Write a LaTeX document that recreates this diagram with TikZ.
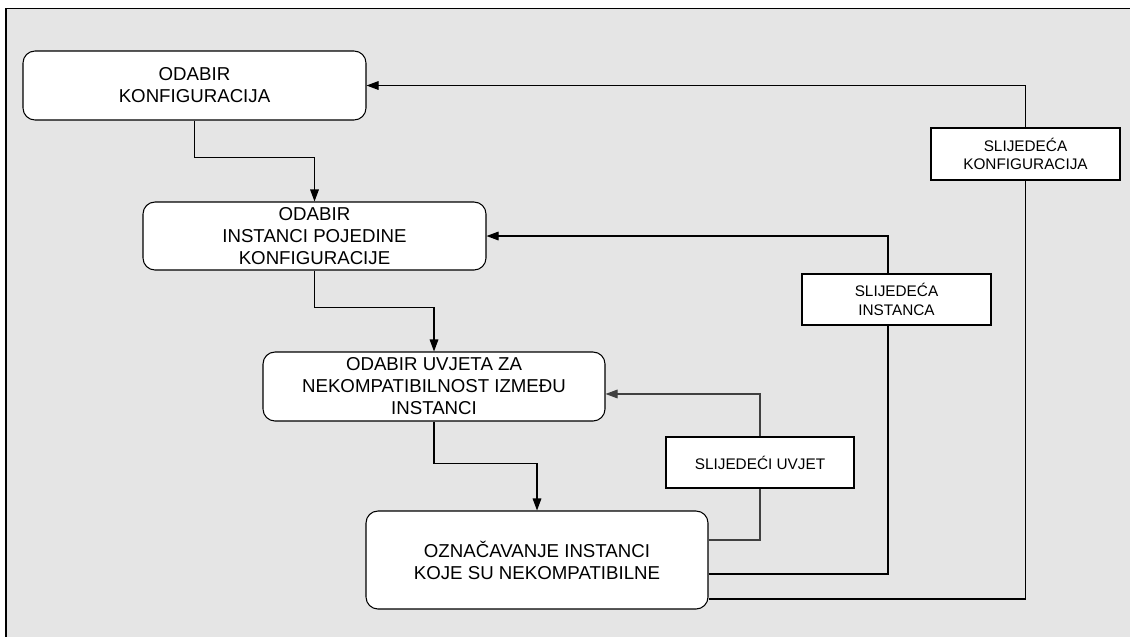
\documentclass[tikz,border=0pt]{standalone}
\usepackage{fontspec}
\setmainfont{Liberation Sans}
\usetikzlibrary{arrows.meta}

\definecolor{panelgray}{RGB}{229,229,229}

\tikzset{
  stage/.style={draw=black, fill=white, rounded corners=9pt, line width=0.8pt,
    align=center, inner sep=0pt, font=\fontsize{14}{16.5}\selectfont},
  note/.style={draw=black, fill=white, line width=0.8pt, align=center,
    inner sep=0pt, font=\fontsize{11.5}{14}\selectfont},
  flow/.style={draw=black, line width=0.8pt, -{Triangle[length=9pt,width=6.5pt]}}
}

\begin{document}
\begin{tikzpicture}[x=0.75pt,y=0.75pt,yscale=-1,xscale=1]
\useasboundingbox (0,0) rectangle (1130,636);

%Frame
\fill [panelgray] (6,8.5) rectangle (1140,646);
\draw [line width=1.2pt] (6,646) -- (6,8.5) -- (1140,8.5);

%Rounded Rect
\node [stage, minimum width=257.25pt, minimum height=51.75pt] (odabirKonf) at (194.5,85.5) {ODABIR\\KONFIGURACIJA};
%Rounded Rect
\node [stage, minimum width=257.25pt, minimum height=51pt] (odabirInst) at (314.5,236) {ODABIR\\INSTANCI POJEDINE\\KONFIGURACIJE};
%Rounded Rect
\node [stage, minimum width=256.5pt, minimum height=51.75pt] (odabirUvj) at (434,386.5) {ODABIR UVJETA ZA\\NEKOMPATIBILNOST IZMEĐU\\INSTANCI};
%Rounded Rect
\node [stage, minimum width=256.5pt, minimum height=73.5pt] (oznacavanje) at (537,560) {OZNAČAVANJE INSTANCI\\KOJE SU NEKOMPATIBILNE};

% Text Node
\node [note, minimum width=141pt, minimum height=38.25pt] (sljUvjet) at (760,462.5) {SLIJEDEĆI UVJET};
% Text Node
\node [note, minimum width=141.75pt, minimum height=38.25pt] (sljInst) at (896.5,299.5) {SLIJEDEĆA\\INSTANCA};
% Text Node
\node [note, minimum width=141.75pt, minimum height=39pt] (sljKonf) at (1025.5,154) {SLIJEDEĆA\\KONFIGURACIJA};

%Straight Lines
\draw [flow] (odabirKonf.south) -- ++(0,37) -| (odabirInst.north);
\draw [flow] (odabirInst.south) -- ++(0,37) -| (odabirUvj.north);
\draw [flow] (odabirUvj.south) -- ++(0,42) -| (oznacavanje.north);

%Loops back
\draw [line width=0.8pt, draw=black!75] ([yshift=-15pt]oznacavanje.east) -| (sljUvjet.south);
\draw [flow, draw=black!75] (sljUvjet.north) |- ([yshift=5.6pt]odabirUvj.east);
\draw [line width=0.8pt] ([yshift=10.5pt]oznacavanje.east) -| ([xshift=-6.4pt]sljInst.south);
\draw [flow] ([xshift=-6.4pt]sljInst.north) |- (odabirInst.east);
\draw [line width=0.8pt] ([yshift=29.25pt]oznacavanje.east) -| (sljKonf.south);
\draw [flow] (sljKonf.north) |- (odabirKonf.east);

\end{tikzpicture}
\end{document}
